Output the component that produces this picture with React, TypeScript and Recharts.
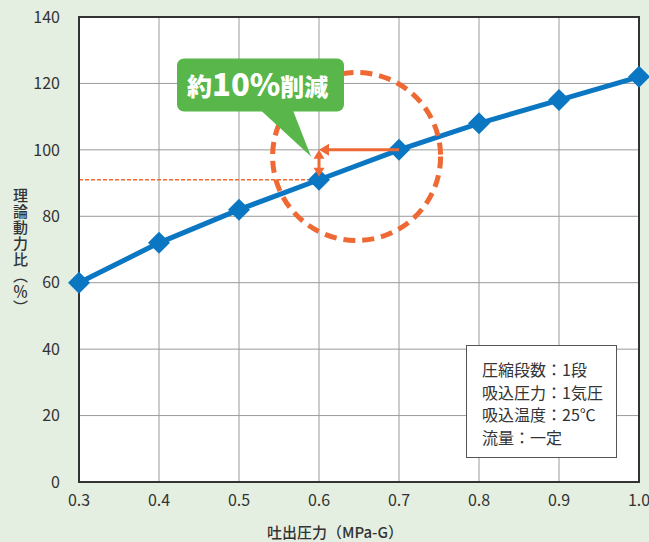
import {
  LineChart,
  Line,
  XAxis,
  YAxis,
  CartesianGrid,
  ReferenceLine,
  ReferenceDot,
  ReferenceArea,
} from 'recharts'

// 吐出圧力 (MPa-G) vs 理論動力比 (%)
const pressure = [0.3, 0.4, 0.5, 0.6, 0.7, 0.8, 0.9, 1.0]
const powerRatio = [60, 72, 82, 91, 100, 108, 115, 122]
const xTicks = [0.3, 0.4, 0.5, 0.6, 0.7, 0.8, 0.9, 1.0]
const yTicks = [0, 20, 40, 60, 80, 100, 120, 140]
const conditions = ['圧縮段数：1段', '吸込圧力：1気圧', '吸込温度：25℃', '流量：一定']
const calloutText = ['約', '10%', '削減']

const FONT = '"Noto Sans CJK JP", "Noto Sans", sans-serif'
const BLUE = '#0b77c2'
const ORANGE = '#ef6934'
const GREEN = '#58b64a'
const TEXT = '#333'

const chartData = pressure.map((p, i) => ({ p, ratio: powerRatio[i] }))

function Diamond(props: any) {
  const { cx, cy, index } = props
  if (cx == null || cy == null) return null
  const s = 11
  return (
    <polygon
      key={`d-${index}`}
      points={`${cx},${cy - s} ${cx + s},${cy} ${cx},${cy + s} ${cx - s},${cy}`}
      fill={BLUE}
    />
  )
}

// horizontal arrow, head at (x2, y2)
function ArrowLeft(props: any) {
  const { x1, y1, x2, y2 } = props
  const h = 10
  const w = 6
  return (
    <g>
      <line x1={x1} y1={y1} x2={x2 + h - 1} y2={y2} stroke={ORANGE} strokeWidth={3} />
      <polygon points={`${x2},${y2} ${x2 + h},${y2 - w} ${x2 + h},${y2 + w}`} fill={ORANGE} />
    </g>
  )
}

// vertical arrow with heads at both ends
function ArrowBoth(props: any) {
  const { x1, y1, x2, y2 } = props
  const top = Math.min(y1, y2)
  const bot = Math.max(y1, y2) - 3
  const h = 9
  const w = 5.5
  return (
    <g>
      <line x1={x1} y1={top + h - 1} x2={x2} y2={bot - h + 1} stroke={ORANGE} strokeWidth={3} />
      <polygon points={`${x1},${top} ${x1 - w},${top + h} ${x1 + w},${top + h}`} fill={ORANGE} />
      <polygon points={`${x1},${bot} ${x1 - w},${bot - h} ${x1 + w},${bot - h}`} fill={ORANGE} />
    </g>
  )
}

function Callout(props: any) {
  const { cx, cy } = props
  const left = cx - 134
  const top = cy - 98
  return (
    <g>
      <rect x={left} y={top} width={167} height={53} rx={7} fill={GREEN} />
      <polygon points={`${cx - 50},${top + 52} ${cx - 18},${top + 52} ${cx},${cy}`} fill={GREEN} />
      <text x={left + 10} y={top + 37} fill="#fff" fontFamily={FONT} fontWeight={900}>
        <tspan fontSize={25}>{calloutText[0]}</tspan>
        <tspan fontSize={31}>{calloutText[1]}</tspan>
        <tspan fontSize={24}>{calloutText[2]}</tspan>
      </text>
    </g>
  )
}

function DashedCircle(props: any) {
  const { cx, cy } = props
  return (
    <circle cx={cx} cy={cy} r={84} fill="none" stroke={ORANGE} strokeWidth={5} strokeDasharray="12 7" />
  )
}

export default function App() {
  return (
    <div
      style={{
        position: 'fixed',
        left: 0,
        top: 0,
        width: 649,
        height: 542,
        overflow: 'hidden',
        background: '#e4efe2',
        fontFamily: FONT,
      }}
    >
      <LineChart width={649} height={542} data={chartData} margin={{ top: 17, right: 10, left: 0, bottom: 0 }}>
        <CartesianGrid stroke="#9a9a9a" strokeWidth={1} fill="#fff" />
        <XAxis
          dataKey="p"
          type="number"
          domain={[0.3, 1.0]}
          ticks={xTicks}
          tickFormatter={(v: number) => v.toFixed(1)}
          height={60}
          axisLine={{ stroke: '#333', strokeWidth: 2 }}
          tickLine={false}
          tickMargin={7}
          tick={{ fontSize: 16, fill: TEXT, fontFamily: FONT }}
        />
        <YAxis
          type="number"
          domain={[0, 140]}
          ticks={yTicks}
          width={79}
          axisLine={{ stroke: '#333', strokeWidth: 2 }}
          tickLine={false}
          tickMargin={13}
          tick={{ fontSize: 16, fill: TEXT, fontFamily: FONT }}
        />
        <ReferenceArea x1={0.3} x2={1.0} y1={0} y2={140} fill="none" stroke="#333" strokeWidth={2} fillOpacity={0} />
        <ReferenceLine
          segment={[
            { x: 0.3, y: 91 },
            { x: 0.6, y: 91 },
          ]}
          stroke={ORANGE}
          strokeWidth={1.3}
          strokeDasharray="4 2"
        />
        <Line
          dataKey="ratio"
          stroke={BLUE}
          strokeWidth={5}
          dot={Diamond}
          activeDot={false}
          isAnimationActive={false}
        />
        <ReferenceDot x={0.647} y={98} r={84} shape={DashedCircle} zIndex={1000} />
        <ReferenceLine
          segment={[
            { x: 0.7, y: 100 },
            { x: 0.6, y: 100 },
          ]}
          shape={ArrowLeft}
          zIndex={1100}
        />
        <ReferenceLine
          segment={[
            { x: 0.6, y: 100 },
            { x: 0.6, y: 91 },
          ]}
          shape={ArrowBoth}
          zIndex={1100}
        />
        <ReferenceDot x={0.59} y={98} r={1} shape={Callout} zIndex={1200} />
      </LineChart>

      <div
        style={{
          position: 'absolute',
          left: 466,
          top: 345,
          width: 151,
          height: 113,
          boxSizing: 'border-box',
          border: '1px solid #555',
          background: '#fff',
          padding: '12px 0 0 15px',
          fontSize: 16,
          lineHeight: '22.5px',
          color: TEXT,
        }}
      >
        {conditions.map((c) => (
          <div key={c} style={{ whiteSpace: 'nowrap' }}>
            {c}
          </div>
        ))}
      </div>

      <div
        style={{
          position: 'absolute',
          left: 11,
          top: 188,
          writingMode: 'vertical-rl',
          fontSize: 15,
          fontWeight: 500,
          lineHeight: '18px',
          letterSpacing: 1,
          color: TEXT,
        }}
      >
        理論動力比（％）
      </div>

      <div
        style={{
          position: 'absolute',
          left: 250,
          top: 522,
          width: 170,
          textAlign: 'center',
          fontSize: 15,
          fontWeight: 500,
          lineHeight: '19px',
          color: TEXT,
          whiteSpace: 'nowrap',
        }}
      >
        吐出圧力（MPa-G）
      </div>
    </div>
  )
}
